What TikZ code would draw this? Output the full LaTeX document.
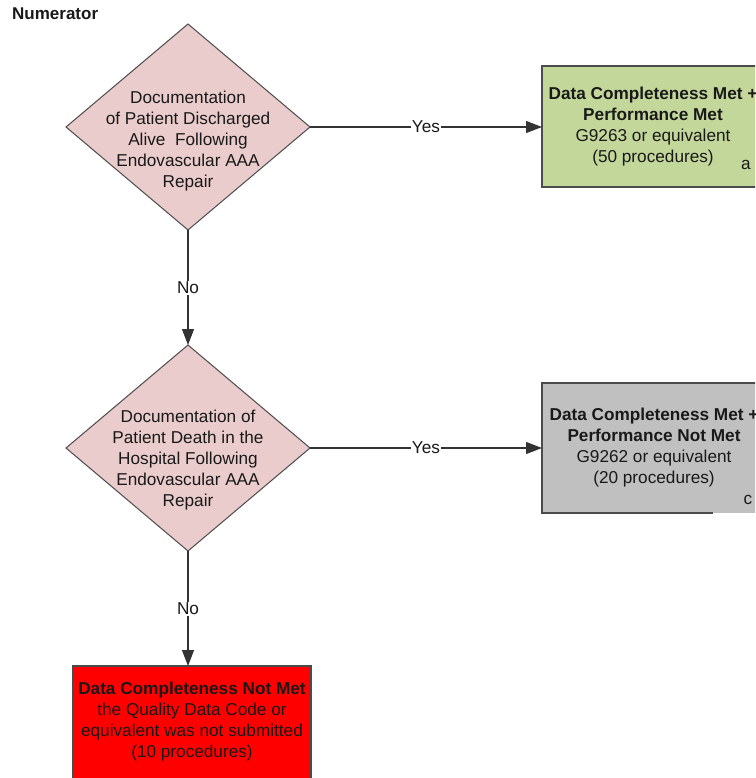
\documentclass[tikz,border=0pt]{standalone}
\usepackage{fontspec}
\setmainfont{Liberation Sans}
\usetikzlibrary{shapes.geometric,arrows.meta,calc}
\definecolor{dpink}{RGB}{235,204,204}
\definecolor{dgreen}{RGB}{196,215,155}
\definecolor{dgray}{RGB}{192,192,192}
\definecolor{dred}{RGB}{255,0,0}
\definecolor{edgec}{RGB}{75,75,75}
\definecolor{txt}{RGB}{25,25,25}
\begin{document}
\begin{tikzpicture}[x=1pt,y=-1pt,
  font=\fontsize{17.2}{21}\selectfont,
  decision/.style={diamond, draw=edgec, fill=dpink, line width=1pt, minimum width=244pt, minimum height=206pt, inner sep=0pt, outer sep=0pt},
  dtext/.style={align=center, text=txt, inner sep=0pt},
  outcome/.style={rectangle, draw=edgec, line width=1.3pt, inner sep=0pt, outer sep=0pt, align=center, text=txt},
  conn/.style={draw=black!80, line width=1.2pt, -{Triangle[length=16pt,width=12pt]}},
  lbl/.style={fill=white, inner sep=1pt, text=txt}
]
\useasboundingbox (0,0) rectangle (755,778);
\clip (0,0) rectangle (755,778);
\fill[white] (0,0) rectangle (755,778);

\node[anchor=west, inner sep=0pt, text=txt, font=\fontsize{17}{21}\selectfont\bfseries] (num) at (12,14) {Numerator};

% decisions
\node[decision] (d1) at (188,127) {};
\node[dtext] (t1) at (188,141) {Documentation\\of Patient Discharged\\Alive\ \ Following\\Endovascular AAA\\Repair};
\node[decision] (d2) at (188,448) {};
\node[dtext] (t2) at (188,460) {Documentation of\\Patient Death in the\\Hospital Following\\Endovascular AAA\\Repair};

% outcomes
\node[outcome, fill=dgreen, minimum width=222pt, minimum height=121pt] (g) at (653,126.5)
  {\textbf{Data Completeness Met +}\\\textbf{Performance Met}\\G9263 or equivalent\\(50 procedures)};
\node[outcome, draw=none, fill=dgray, minimum width=224pt, minimum height=130pt] (k) at (654,448)
  {\textbf{Data Completeness Met +}\\\textbf{Performance Not Met}\\G9262 or equivalent\\(20 procedures)};
\draw[edgec, line width=1.3pt] ($(k.south west)+(171,0)$) -- (k.south west) -- (k.north west) -- (k.north east);
\node[outcome, fill=dred, minimum width=238pt, minimum height=130pt] (r) at (192,731) {};
\node[dtext] (rt) at (192,721.5) {\textbf{Data Completeness Not Met}\\the Quality Data Code or\\equivalent was not submitted\\(10 procedures)};

\node[inner sep=0pt, text=txt] (la) at (746,165) {a};
\node[inner sep=0pt, text=txt] (lc) at (748,500) {c};

% connectors
\draw[conn] (d1.east) -- node[lbl] {Yes} (d1.east -| g.west);
\draw[conn] (d1.south) -- node[lbl] {No} (d2.north);
\draw[conn] (d2.east) -- node[lbl] {Yes} (d2.east -| k.west);
\draw[conn] (d2.south) -- node[lbl] {No} (d2.south |- r.north);
\end{tikzpicture}
\end{document}
